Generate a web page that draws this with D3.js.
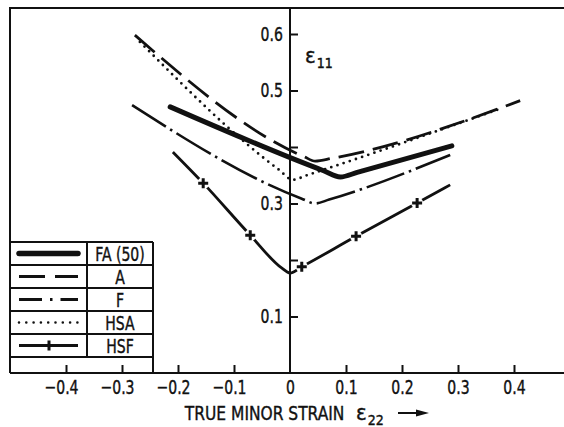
<!DOCTYPE html>
<html>
<head>
<meta charset="utf-8">
<script src="https://cdn.jsdelivr.net/npm/d3@7"></script>
<style>
body { margin: 0; background: #fff; }
text { font-family: "DejaVu Sans Condensed", "Liberation Sans Narrow", sans-serif; fill: #111; stroke: #111; stroke-width: 0.4px; }
.narrow { transform-box: fill-box; transform-origin: center; transform: scaleX(0.78); }
.narrow-left { transform-box: fill-box; transform-origin: left; transform: scaleX(0.86); }
</style>
</head>
<body>
<div id="chart"></div>
<script>
// curves: [minor strain e22, major strain e11]
let fa50 = [[-0.214, 0.471], [0.06, 0.358], [0.09, 0.347], [0.12, 0.355], [0.289, 0.402]];
let seriesA = [[-0.277, 0.598], [0.025, 0.383], [0.045, 0.375], [0.075, 0.380], [0.411, 0.482]];
let seriesF = [[-0.282, 0.474], [0.02, 0.309], [0.045, 0.300], [0.07, 0.307], [0.286, 0.386]];
let hsa = [[-0.268, 0.586], [-0.02, 0.36], [0.005, 0.342], [0.03, 0.350], [0.379, 0.469]];
let hsf = [[-0.209, 0.391], [-0.155, 0.336], [-0.071, 0.244], [-0.015, 0.186], [0, 0.177],
           [0.021, 0.188], [0.118, 0.242], [0.227, 0.301], [0.286, 0.333]];
let hsfMarks = [[-0.155, 0.336], [-0.071, 0.244], [0.021, 0.188], [0.118, 0.242], [0.227, 0.301]];

let names = ["FA (50)", "A", "F", "HSA", "HSF"];
let xTicks = [-0.4, -0.3, -0.2, -0.1, 0, 0.1, 0.2, 0.3, 0.4];
let yTicks = [0.1, 0.2, 0.3, 0.4, 0.5, 0.6];
let yLabelled = [0.1, 0.3, 0.5, 0.6];

let width = 564, height = 427;
let ink = "#111";
let fontSize = "20px";

let x = d3.scaleLinear().domain([-0.4, 0.4]).range([66, 514]);
let y = d3.scaleLinear().domain([0, 0.6]).range([373, 34]);

let svg = d3.select("#chart")
    .append("svg")
    .attr("width", width)
    .attr("height", height);

// frame: top and left border, bottom axis line, y axis at e22 = 0
svg.append("path")
    .attr("d", "M10," + y(0) + "V8H" + width)
    .attr("fill", "none").attr("stroke", ink).attr("stroke-width", 2);
svg.append("line")
    .attr("x1", 10).attr("x2", width)
    .attr("y1", y(0)).attr("y2", y(0))
    .attr("stroke", ink).attr("stroke-width", 2);
svg.append("line")
    .attr("x1", x(0)).attr("x2", x(0))
    .attr("y1", 8).attr("y2", y(0))
    .attr("stroke", ink).attr("stroke-width", 2);

// axes
let xAxis = d3.axisBottom(x)
    .tickValues(xTicks)
    .tickSize(-8)
    .tickPadding(5)
    .tickFormat(d => d < 0 ? "\u2212" + d3.format(".1f")(-d) : (d === 0 ? "0" : d3.format(".1f")(d)));

let gx = svg.append("g")
    .attr("transform", "translate(0," + y(0) + ")")
    .call(xAxis);
gx.select(".domain").remove();
gx.selectAll(".tick line").attr("stroke", ink).attr("stroke-width", 2)
    .filter(d => d === 0).remove();
gx.selectAll(".tick text")
    .attr("class", "narrow")
    .style("font-size", fontSize)
    .attr("x", d => d < 0 ? -5 : 0)
    .attr("dy", "0.8em");

let yAxis = d3.axisLeft(y)
    .tickValues(yTicks)
    .tickSize(-8)
    .tickPadding(4)
    .tickFormat(d => yLabelled.includes(d) ? d3.format(".1f")(d) : "");

let gy = svg.append("g")
    .attr("transform", "translate(" + x(0) + ",0)")
    .call(yAxis);
gy.select(".domain").remove();
gy.selectAll(".tick line").attr("stroke", ink).attr("stroke-width", 2);
gy.selectAll(".tick text")
    .attr("class", "narrow")
    .style("font-size", fontSize);

// curves
let line = d3.line()
    .x(d => x(d[0]))
    .y(d => y(d[1]))
    .curve(d3.curveMonotoneX);

let curves = [
    { data: fa50, w: 5, dash: null, cap: "round" },
    { data: seriesA, w: 2.8, dash: "26,9", cap: "butt" },
    { data: seriesF, w: 2.6, dash: "40,5,2.5,5", cap: "butt" },
    { data: hsa, w: 2.8, dash: "0,6.5", cap: "round" },
    { data: hsf, w: 2.8, dash: null, cap: "butt" }
];

svg.selectAll(".curve")
    .data(curves)
    .enter()
    .append("path")
    .attr("class", "curve")
    .attr("d", d => line(d.data))
    .attr("fill", "none")
    .attr("stroke", ink)
    .attr("stroke-width", d => d.w)
    .attr("stroke-linecap", d => d.cap)
    .attr("stroke-dasharray", d => d.dash);

function plusMark(sel, size, gap) {
    sel.append("circle").attr("r", gap).attr("fill", "#fff");
    sel.append("path")
        .attr("d", "M" + (-size) + ",0H" + size + "M0," + (-size) + "V" + size)
        .attr("stroke", ink).attr("stroke-width", 3);
}

svg.selectAll(".mark")
    .data(hsfMarks)
    .enter()
    .append("g")
    .attr("class", "mark")
    .attr("transform", d => "translate(" + x(d[0]) + "," + y(d[1]) + ")")
    .call(plusMark, 5, 6);

// legend table
let lgTop = 242, rowH = 23, lgLeft = 10, lgMid = 87, lgRight = 153;
let lg = svg.append("g");

lg.selectAll(".hline")
    .data(d3.range(names.length + 1))
    .enter()
    .append("line")
    .attr("x1", lgLeft).attr("x2", lgRight)
    .attr("y1", i => lgTop + i * rowH).attr("y2", i => lgTop + i * rowH)
    .attr("stroke", ink).attr("stroke-width", 2);
lg.append("line")
    .attr("x1", lgMid).attr("x2", lgMid)
    .attr("y1", lgTop).attr("y2", lgTop + names.length * rowH)
    .attr("stroke", ink).attr("stroke-width", 2);
lg.append("line")
    .attr("x1", lgRight).attr("x2", lgRight)
    .attr("y1", lgTop).attr("y2", y(0))
    .attr("stroke", ink).attr("stroke-width", 2);

let legendStyles = [
    { w: 5.5, dash: null, cap: "round" },
    { w: 2.8, dash: "26,10", cap: "butt" },
    { w: 2.8, dash: "23,8,2.5,8", cap: "butt" },
    { w: 2.6, dash: "0,7.3", cap: "round" },
    { w: 2.8, dash: null, cap: "butt" }
];

let rows = lg.selectAll(".row")
    .data(names)
    .enter()
    .append("g")
    .attr("class", "row")
    .attr("transform", (d, i) => "translate(0," + (lgTop + i * rowH + rowH / 2) + ")");

rows.append("line")
    .attr("x1", 19).attr("x2", 78)
    .attr("stroke", ink)
    .attr("stroke-width", (d, i) => legendStyles[i].w)
    .attr("stroke-linecap", (d, i) => legendStyles[i].cap)
    .attr("stroke-dasharray", (d, i) => legendStyles[i].dash);

rows.filter(d => d === "HSF")
    .append("g")
    .attr("transform", "translate(49,0)")
    .call(plusMark, 5, 5);

rows.append("text")
    .attr("class", "narrow")
    .attr("x", (lgMid + lgRight) / 2)
    .attr("dy", "0.38em")
    .attr("text-anchor", "middle")
    .style("font-size", fontSize)
    .text(d => d);

// axis titles
let eps11 = svg.append("text")
    .attr("x", 305).attr("y", 63)
    .style("font-size", "22px");
eps11.append("tspan").text("\u03b5");
eps11.append("tspan").attr("dx", 1).attr("dy", 5).style("font-size", "14px").text("11");

svg.append("text")
    .attr("class", "narrow-left")
    .attr("x", 185).attr("y", 420)
    .style("font-size", fontSize)
    .text("TRUE MINOR STRAIN");

let eps22 = svg.append("text")
    .attr("x", 356).attr("y", 420)
    .style("font-size", "22px");
eps22.append("tspan").text("\u03b5");
eps22.append("tspan").attr("dx", 1).attr("dy", 5).style("font-size", "14px").text("22");

svg.append("line")
    .attr("x1", 398).attr("x2", 418)
    .attr("y1", 413).attr("y2", 413)
    .attr("stroke", ink).attr("stroke-width", 2);
svg.append("path")
    .attr("d", "M416,409.5L429,413L416,416.5Z")
    .attr("fill", ink);
</script>
</body>
</html>
